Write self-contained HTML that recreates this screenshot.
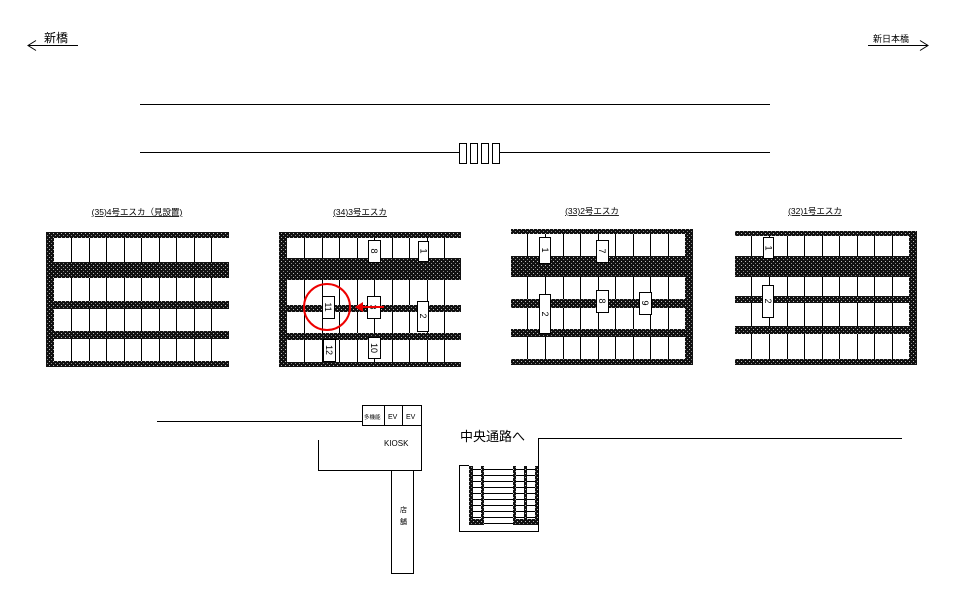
<!DOCTYPE html>
<html><head><meta charset="utf-8"><style>
html,body{margin:0;padding:0;background:#fff;}
svg{display:block;font-family:"Liberation Sans","Noto Sans CJK JP",sans-serif;}
</style></head><body>
<svg width="960" height="605" viewBox="0 0 960 605" xmlns="http://www.w3.org/2000/svg">
<defs>
<pattern id="h" width="4" height="4" patternUnits="userSpaceOnUse">
<rect width="4" height="4" fill="#111"/><rect x="1" y="1" width="1" height="1" fill="#bbb"/><rect x="3" y="3" width="1" height="1" fill="#888"/>
</pattern>
</defs>
<g stroke="#000" fill="none" stroke-width="1">
<line x1="28" y1="45.5" x2="78" y2="45.5"/><polyline points="36,40.5 28,45.5 36,50.5"/>
<line x1="868" y1="45.5" x2="928" y2="45.5"/><polyline points="920,40.5 928,45.5 920,50.5"/>
<line x1="140" y1="104.5" x2="770" y2="104.5"/>
<line x1="140" y1="152.5" x2="459" y2="152.5"/><line x1="500" y1="152.5" x2="770" y2="152.5"/>
<rect x="459.5" y="143.5" width="7" height="20"/><rect x="470.5" y="143.5" width="7" height="20"/>
<rect x="481.5" y="143.5" width="7" height="20"/><rect x="492.5" y="143.5" width="7" height="20"/>
</g>
<text x="44" y="42" font-size="12">新橋</text>
<text x="873" y="42" font-size="9">新日本橋</text>

<g>
<text x="137" y="215" font-size="8.5" text-anchor="middle" text-decoration="underline">(35)4号エスカ（見設置)</text>
<g stroke="#000" stroke-width="1">
<line x1="71.5" y1="232" x2="71.5" y2="367"/><line x1="89.5" y1="232" x2="89.5" y2="367"/><line x1="106.5" y1="232" x2="106.5" y2="367"/><line x1="124.5" y1="232" x2="124.5" y2="367"/><line x1="141.5" y1="232" x2="141.5" y2="367"/><line x1="159.5" y1="232" x2="159.5" y2="367"/><line x1="176.5" y1="232" x2="176.5" y2="367"/><line x1="194.5" y1="232" x2="194.5" y2="367"/><line x1="211.5" y1="232" x2="211.5" y2="367"/>
</g>
<g fill="url(#h)">
<rect x="46" y="232" width="183" height="6"/><rect x="46" y="262" width="183" height="16"/><rect x="46" y="301" width="183" height="8"/><rect x="46" y="331" width="183" height="8"/><rect x="46" y="361" width="183" height="6"/><rect x="46" y="232" width="8" height="135"/>
</g>
</g>

<g>
<text x="360" y="215" font-size="8.5" text-anchor="middle" text-decoration="underline">(34)3号エスカ</text>
<g stroke="#000">
<line x1="304.5" y1="232" x2="304.5" y2="367"/><line x1="322.5" y1="232" x2="322.5" y2="367"/><line x1="339.5" y1="232" x2="339.5" y2="367"/><line x1="357.5" y1="232" x2="357.5" y2="367"/><line x1="374.5" y1="232" x2="374.5" y2="367"/><line x1="392.5" y1="232" x2="392.5" y2="367"/><line x1="409.5" y1="232" x2="409.5" y2="367"/><line x1="427.5" y1="232" x2="427.5" y2="367"/><line x1="444.5" y1="232" x2="444.5" y2="367"/>
</g>
<g fill="url(#h)">
<rect x="279" y="232" width="182" height="6"/><rect x="279" y="258" width="182" height="22"/><rect x="279" y="305" width="182" height="7"/><rect x="279" y="333" width="182" height="7"/><rect x="279" y="362" width="182" height="5"/><rect x="279" y="232" width="8" height="135"/>
</g>
<g fill="#fff" stroke="#000">
<rect x="368.5" y="240.5" width="12" height="22"/><rect x="418.5" y="241.5" width="10" height="20"/><rect x="322.5" y="296.5" width="12" height="22"/><rect x="367.5" y="296.5" width="13" height="22"/><rect x="417.5" y="301.5" width="11" height="30"/><rect x="323.5" y="339.5" width="12" height="22"/><rect x="368.5" y="337.5" width="12" height="21"/>
</g>
<g font-size="9" text-anchor="middle">
<text transform="translate(371,251) rotate(90)">8</text><text transform="translate(420.5,251) rotate(90)">1</text><text transform="translate(325,307) rotate(90)">11</text><text transform="translate(370,307) rotate(90)">3</text><text transform="translate(420,316) rotate(90)">2</text><text transform="translate(326,350) rotate(90)">12</text><text transform="translate(371,348) rotate(90)">10</text>
</g>
<circle cx="327" cy="307" r="23" fill="none" stroke="#e00" stroke-width="2"/>
<line x1="384" y1="307" x2="360" y2="307" stroke="#e00" stroke-width="2"/>
<polygon points="355,307 363,302 363,312" fill="#e00"/>
</g>

<g>
<text x="592" y="214" font-size="8.5" text-anchor="middle" text-decoration="underline">(33)2号エスカ</text>
<g stroke="#000">
<line x1="527.5" y1="229" x2="527.5" y2="365"/><line x1="545.5" y1="229" x2="545.5" y2="365"/><line x1="563.5" y1="229" x2="563.5" y2="365"/><line x1="580.5" y1="229" x2="580.5" y2="365"/><line x1="598.5" y1="229" x2="598.5" y2="365"/><line x1="615.5" y1="229" x2="615.5" y2="365"/><line x1="633.5" y1="229" x2="633.5" y2="365"/><line x1="650.5" y1="229" x2="650.5" y2="365"/><line x1="668.5" y1="229" x2="668.5" y2="365"/>
</g>
<g fill="url(#h)">
<rect x="511" y="229" width="182" height="5"/><rect x="511" y="256" width="182" height="21"/><rect x="511" y="299" width="182" height="9"/><rect x="511" y="329" width="182" height="8"/><rect x="511" y="359" width="182" height="6"/><rect x="685" y="229" width="8" height="136"/>
</g>
<g fill="#fff" stroke="#000">
<rect x="539.5" y="237.5" width="11" height="26"/><rect x="596.5" y="240.5" width="12" height="22"/><rect x="539.5" y="294.5" width="11" height="39"/><rect x="596.5" y="290.5" width="12" height="22"/><rect x="639.5" y="292.5" width="12" height="22"/>
</g>
<g font-size="9" text-anchor="middle">
<text transform="translate(542,250) rotate(90)">1</text><text transform="translate(599,251) rotate(90)">7</text><text transform="translate(542,314) rotate(90)">2</text><text transform="translate(599,301) rotate(90)">8</text><text transform="translate(642,303) rotate(90)">9</text>
</g>
</g>

<g>
<text x="815" y="214" font-size="8.5" text-anchor="middle" text-decoration="underline">(32)1号エスカ</text>
<g stroke="#000">
<line x1="751.5" y1="231" x2="751.5" y2="365"/><line x1="769.5" y1="231" x2="769.5" y2="365"/><line x1="787.5" y1="231" x2="787.5" y2="365"/><line x1="804.5" y1="231" x2="804.5" y2="365"/><line x1="822.5" y1="231" x2="822.5" y2="365"/><line x1="839.5" y1="231" x2="839.5" y2="365"/><line x1="857.5" y1="231" x2="857.5" y2="365"/><line x1="874.5" y1="231" x2="874.5" y2="365"/><line x1="892.5" y1="231" x2="892.5" y2="365"/>
</g>
<g fill="url(#h)">
<rect x="735" y="231" width="182" height="5"/><rect x="735" y="256" width="182" height="21"/><rect x="735" y="296" width="182" height="7"/><rect x="735" y="326" width="182" height="8"/><rect x="735" y="359" width="182" height="6"/><rect x="909" y="231" width="8" height="134"/>
</g>
<g fill="#fff" stroke="#000">
<rect x="763.5" y="237.5" width="10" height="21"/><rect x="762.5" y="285.5" width="11" height="32"/>
</g>
<g font-size="9" text-anchor="middle">
<text transform="translate(765.5,248) rotate(90)">1</text><text transform="translate(765,301) rotate(90)">2</text>
</g>
</g>

<g stroke="#000" fill="none">
<line x1="157" y1="421.5" x2="362" y2="421.5"/>
<rect x="362.5" y="405.5" width="59" height="20"/>
<line x1="384.5" y1="405" x2="384.5" y2="425"/><line x1="402.5" y1="405" x2="402.5" y2="425"/>
<polyline points="318.5,440 318.5,470.5 421.5,470.5 421.5,425"/>
<rect x="391.5" y="470.5" width="22" height="103" fill="#fff"/>
<polyline points="469,465.5 459.5,465.5 459.5,531.5 538.5,531.5 538.5,438.5 902,438.5"/>
</g>
<text x="364" y="419" font-size="5.5">多機能</text>
<text x="388" y="419" font-size="7">EV</text>
<text x="406" y="419" font-size="7">EV</text>
<text x="384" y="446" font-size="8">KIOSK</text>
<text x="400" y="512" font-size="7">店</text>
<text x="400" y="524" font-size="7">舗</text>
<text x="460" y="441" font-size="13">中央通路へ</text>
<g stroke="#000" stroke-width="1">
<line x1="470" y1="469.5" x2="536" y2="469.5"/><line x1="470" y1="475.5" x2="536" y2="475.5"/><line x1="470" y1="481.5" x2="536" y2="481.5"/><line x1="470" y1="487.5" x2="536" y2="487.5"/><line x1="470" y1="493.5" x2="536" y2="493.5"/><line x1="470" y1="499.5" x2="536" y2="499.5"/><line x1="470" y1="505.5" x2="536" y2="505.5"/><line x1="470" y1="511.5" x2="536" y2="511.5"/><line x1="470" y1="517.5" x2="536" y2="517.5"/><line x1="470" y1="523.5" x2="536" y2="523.5"/>
</g>
<g fill="url(#h)">
<rect x="469" y="466" width="4" height="59"/><rect x="481" y="466" width="3" height="59"/><rect x="513" y="466" width="3" height="59"/><rect x="524" y="466" width="3" height="59"/><rect x="535" y="466" width="3" height="59"/>
<rect x="469" y="519" width="15" height="6"/><rect x="513" y="519" width="25" height="6"/>
</g>
</svg>
</body></html>
